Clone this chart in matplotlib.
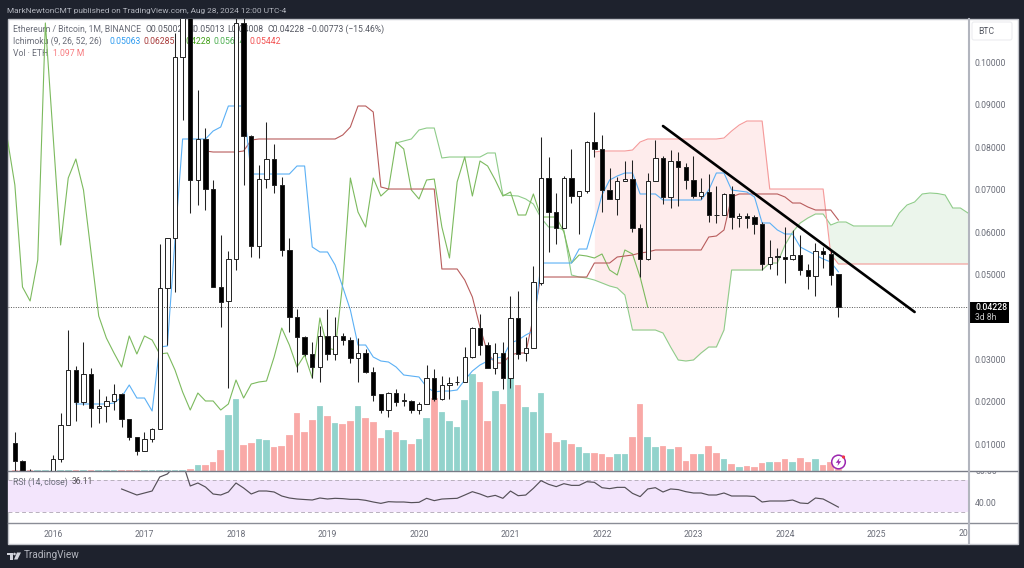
import numpy as np
import matplotlib
matplotlib.use('Agg')
import matplotlib.pyplot as plt
from matplotlib.patches import Rectangle, Circle, Polygon, FancyBboxPatch
from matplotlib.transforms import Bbox, blended_transform_factory

plt.rcParams['font.family'] = ['Roboto', 'DejaVu Sans']

# monthly bars, index 0 = Jan 2016
first_bar = -5
opens = [.01026,.00601,.00295,.0022,.0024,
 .00342,.00649,.01450,.02748,.01993,.02653,.01851,.01899,.02017,.02182,
 .01592,.01167,.00837,.01120,.01356,.04682,.05861,.10130,.12200,.07229,
 .08196,.07016,.04705,.04375,.05366,.10932,.08267,.05672,.07252,.07724,
 .07111,.05578,.03998,.03526,.03125,.02818,.03550,.03125,.03550,.03455,
 .03031,.03149,.02700,.02182,.01804,.02205,.02017,.02017,.01804,.01946,
 .02559,.02064,.02394,.02453,.02453,.03054,.03738,.03337,.02795,.03149,
 .02559,.03974,.03149,.03267,.04800,.07276,.06474,.06097,.07276,.06851,
 .06969,.08125,.07960,.06993,.06781,.07205,.07252,.06097,.05366,.07205,
 .07748,.06828,.07677,.07535,.07229,.06851,.06946,.06415,.06403,.06899,
 .06344,.06368,.06356,.06191,.05248,.05436,.05401,.05366,.05460,.05106,
 .04965,.05554,.05484,.05002]
closes = [.00601,.00153,.00248,.0024,.0029,
 .00649,.01450,.02748,.01993,.02653,.01851,.01899,.02017,.02182,.01592,
 .01167,.00837,.01120,.01356,.04682,.05861,.10130,.12200,.07229,.08196,
 .07016,.04705,.04351,.05366,.10932,.08267,.05672,.07252,.07724,.07111,
 .05578,.03998,.03526,.03125,.02818,.03550,.03125,.03550,.03455,.03031,
 .03149,.02700,.02158,.01804,.02205,.01993,.02040,.01804,.01946,.02559,
 .02064,.02394,.02441,.02476,.03054,.03738,.03337,.02795,.03149,.02559,
 .03974,.03125,.03267,.04823,.07276,.06474,.06097,.07276,.06851,.06969,
 .08125,.07960,.06993,.06781,.07205,.07252,.06097,.05366,.07205,.07748,
 .06828,.07677,.07535,.07229,.06851,.06946,.06403,.06392,.06899,.06356,
 .06368,.06344,.06191,.05248,.05413,.05413,.05377,.05460,.05106,.04965,
 .05554,.05484,.04988,.04228]
highs = [.01285,.00625,.00413,.0028,.0030,
 .00743,.01733,.03691,.02842,.03408,.02795,.02300,.02134,.02417,.02205,
 .01592,.01167,.01285,.01380,.05719,.05861,.10696,.12800,.12800,.09351,
 .08455,.07229,.05932,.05554,.11600,.11400,.08290,.07583,.08597,.08078,
 .07300,.05861,.04186,.03550,.03408,.03785,.04186,.03998,.03620,.03526,
 .03502,.03243,.02818,.02182,.02229,.02300,.02205,.02040,.01993,.02866,
 .02771,.02606,.02583,.02606,.03290,.03762,.04068,.03408,.03384,.03408,
 .04493,.04611,.03526,.05200,.08243,.07771,.06922,.07323,.07960,.06969,
 .08149,.08833,.08290,.07512,.07300,.07677,.07700,.06191,.07394,.08172,
 .07795,.07936,.07889,.07630,.07795,.07276,.07370,.07087,.06922,.07087,
 .06450,.06450,.06403,.06238,.05814,.05625,.06120,.06050,.05932,.05248,
 .05743,.05649,.05578,.05013]
lows = [.00271,.00106,.00200,.0018,.0022,
 .00318,.00578,.01450,.01545,.01922,.01403,.01498,.01521,.01804,.01403,
 .01097,.00743,.00837,.01050,.01356,.03337,.04587,.08644,.06450,.06639,
 .06521,.04705,.03762,.02323,.05106,.07111,.05413,.05389,.07040,.06922,
 .05436,.03644,.02700,.03078,.02559,.02465,.02984,.02984,.03337,.02913,
 .02465,.02677,.02017,.01733,.01639,.01899,.01899,.01733,.01710,.01946,
 .02017,.02040,.02064,.02394,.02453,.03031,.03101,.02795,.02653,.02300,
 .02323,.03007,.02960,.03267,.04752,.05531,.05719,.06097,.06686,.05955,
 .06922,.07771,.06474,.06781,.06403,.07205,.06002,.04941,.05342,.07205,
 .06663,.06568,.06616,.07016,.06804,.06781,.06238,.06215,.06403,.06073,
 .06120,.06097,.05955,.05106,.05130,.04988,.04800,.05342,.04988,.04658,
 .04493,.05153,.04752,.04008]
volume = [1]*23 + [2.3,6.3,6.3,8.7,20.7,55.7,72,26,27.7,31.7,31,24,25,35.7,58,39,50.7,64.7,54.7,48,
 47,50,65,52.7,49,33,40.7,38.7,31,26.7,32,52.7,72.7,59,50,43.7,71,97,89,50,80,67,112.7,86,64,59,77.7,
 37.7,28.7,31,26.7,24,17.7,17.7,17,13.7,17.3,17.3,33.7,67,34,24,25,21.7,24,
 10,17,17,25,18,12,7,4.3,5,4.3,8,8.7,9.3,11.7,9.3,13,9.3,12.3,6,8.7,1.7]

tenkan_start = 3
tenkan = [.01946]*5 + [.01969,.02111,.02394,.02087,.02087,.01781,.03290,.03314,.05814] + [.08196]*4 + [
 .08384,.08479,.08974,.08974,.08974] + [.07370]*6 + [.07559,.07559,.05649,.05531,.05531,.05224,.04705,.04163,
 .03337,.03337,.03054,.02960,.02936,.02818,.02630,.02606,.02583,.02347,.02229,.02252,.02252,.02276,.02512,
 .02724,.02866,.02960,.03031,.03054,.03384,.03455,.03573,.03667] + [.05271]*5 + [.05601,.05601,.06215,.06875,
 .07229,.07323,.07394,.07394,.06899,.06899,.06899] + [.06757]*6 + [.06993,.07394,.07394,.06993,.06969,.06946,
 .06828,.06215,.06215,.06050,.05955,.05955,.05649,.05554,.05460,.05366,.05295,.05063]

kijun_start = 20
kijun = [.07913] + [.07889]*4 + [.07913,.08172] + [.08196]*11 + [.08290,.08479,.08974,.08974,.08833,.07064] + [
 .07016]*7 + [.05130]*3 + [.04870,.04469,.03762,.03149,.02913,.02913,.03101,.03149,.03149,.03998] + [
 .04941]*7 + [.05271]*3 + [.05413,.05436,.05460,.05507,.05531] + [.05578]*7 + [.05884,.05908,.06050,.06828] + [
 .06899]*6 + [.06828,.06686,.06686,.06592,.06521,.06521,.06521,.06285]

lagging_start = -6
lagging = [.08219,.07111,.04705,.04375,.05342,.10932,.08314,.05696,.07276,.07724,.06993,.05507,.04021,.03502,
 .03149,.02818,.03550,.03125,.03550,.03455,.03125,.03149,.02748,.02229,.01804,.02205,.02017,.02017,.01804,
 .01946,.02512,.02087,.02417,.02465,.02488,.03054,.03738,.03337,.02818,.03101,.02559,.03974,.03267,.03219,
 .04800,.07276,.06474,.06120,.07276,.06851,.07016,.08125,.07960,.06993,.06781,.07229,.07252,.06120,.05389,
 .07182,.07771,.06851,.07677,.07559,.07229,.06851,.06946,.06403,.06403,.06899,.06356,.06356,.06356,.06002,
 .05271,.05460,.05436,.05389,.05484,.05106,.04988,.05578,.05484,.04941,.04228]

senkou_a_start = 45
senkou_a = [.08101,.08149,.08196,.08408,.08455,.08455,.07748] + [.07771]*5 + [.07866,.07866,.06875,.06863,.06851,
 .06781,.06663,.06333,.06120,.06120,.06050,.04988,.04941,.04917,.04870,.04800,.04729,.04682,.04516] + [
 .03691]*4 + [.03620,.03290,.02984,.02960,.02984,.03149,.03290,.03290,.03691] + [.05106]*5 + [.05271,.05271,
 .05696,.06002,.06215,.06333,.06427,.06427,.06167,.06238,.06238] + [.06144]*6 + [.06450,.06639,.06710,.06899,
 .06922,.06910,.06875,.06568,.06568,.06450]

senkou_b_start = 71
senkou_b = [.07889] + [.07913]*4 + [.07936,.08125] + [.08196]*10 + [.08219,.08384,.08526] + [.08620]*3 + [
 .07016]*8 + [.05484] + [.05248]*18

rsi_start = 9
rsi_values = [58.75,55,51.25,53.75,56.25,73.75,77.5,88,92,62.5,66.25,61.25,52.5,51.25,55,66.25,60,52.5,56.25,56.25,
 55,50,47.5,46.25,45.6,45,47.5,46.25,47.1,46.7,45.8,45.8,44.6,42.5,40.8,42.9,42.5,42.5,41.7,42.1,47.1,44.2,
 46.2,46.7,47.1,51.2,55.4,52.5,48.8,50.8,47.1,56.2,50.4,51.2,59.6,69.2,64.6,61.7,65.4,63.3,63.3,67.9,67.1,
 60.4,59.2,60.8,60.8,53.3,49.2,58.8,60.4,55,58.8,58,55.4,53.75,53.75,51.25,51.25,53.75,50,50,50,49.4,42.5,
 43.75,43.75,43.75,45,41.25,40.6,47.5,46.25,41.25,36.11]

trend_x = [80, 113]
trend_y = [.08502, .04116]

year_ticks = [0,12,24,36,48,60,72,84,96,108]
year_labels = ['2016','2017','2018','2019','2020','2021','2022','2023','2024','2025']
price_ticks = [.01,.02,.03,.05,.06,.07,.08,.09,.10]

BG = '#1e222d'
GRAY = '#6a6d78'
FS = 6.2
fig = plt.figure(figsize=(10.24, 5.68), dpi=100, facecolor=BG)

def box(x0, y0, x1, y1):
    return [x0/1024, 1-y1/568, (x1-x0)/1024, (y1-y0)/568]

# page layer in pixel coords for frame and header
page = fig.add_axes([0,0,1,1], zorder=0)
page.set_xlim(0,1024); page.set_ylim(568,0); page.axis('off')
page.add_patch(Rectangle((7.5,18.5),1010,525,fc='white',ec='#c4c6cc',lw=1))
page.text(7,10.5,'MarkNewtonCMT published on TradingView.com, Aug 28, 2024 12:00 UTC-4',color='#b2b5be',fontsize=5.95,va='center')
page.text(13,29.5,'Ethereum / Bitcoin, 1M, BINANCE',color='#6a6d78',fontsize=FS,va='center')
for xt,s in [(146,'O0.05002'),(187,'H0.05013'),(227,'L0.04008'),(267,'C0.04228'),(307,'−0.00773 (−15.46%)')]:
    page.text(xt,29.5,s,color='#555862',fontsize=FS,va='center')
page.text(13,41.5,'Ichimoku (9, 26, 52, 26)',color='#6a6d78',fontsize=FS,va='center')
for xt,s,c in [(109,'0.05063','#2e9bf0'),(144,'0.06285','#a83a3a'),(179,'0.04228','#43a018'),(214,'0.05674','#4caf50'),(249,'0.05442','#f25050')]:
    page.text(xt,41.5,s,color=c,fontsize=FS,va='center')
page.text(13,53.5,'Vol · ETH',color='#6a6d78',fontsize=FS,va='center')
page.text(53,53.5,'1.097 M',color='#f77c80',fontsize=FS,va='center')
page.text(24,555.5,'TradingView',color='#b2b5be',fontsize=7.2,va='center')
page.add_patch(Polygon([(7,552.5),(13,552.5),(13,559.5),(10,559.5),(10,555),(7,555)],fc='#d1d4dc',ec='none'))
page.add_patch(Circle((14.5,554),1.3,fc='#d1d4dc',ec='none'))
page.add_patch(Polygon([(17,552.5),(21,552.5),(17.5,559.5),(14,559.5)],fc='#d1d4dc',ec='none'))

xlim = (-5.9, 120)
ylim = (.003656, .11026)

# volume
ax_vol = fig.add_axes(box(8,19,968,471), zorder=1)
ax_vol.patch.set_alpha(0); ax_vol.axis('off')
ax_vol.set_xlim(xlim); ax_vol.set_ylim(0,452)

# price pane
ax = fig.add_axes(box(8,19,968,471), zorder=2)
ax.patch.set_alpha(0)
ax.set_xlim(xlim); ax.set_ylim(ylim)
for s in ax.spines.values():
    s.set_visible(False)

bars = np.arange(first_bar, first_bar+len(closes))
up = np.array(closes) >= np.array(opens)
ax_vol.bar(bars, volume, width=.88, color=['#92d3cc' if u else '#f9a9a7' for u in up], edgecolor='#ffffff', linewidth=.15)

ax.axhline(closes[-1], color='#555555', lw=.7, ls=(0,(1,1.5)), zorder=3)

a_x = senkou_a_start + np.arange(len(senkou_a))
b_x = senkou_b_start + np.arange(len(senkou_b))
cloud_x = b_x
cloud_a = np.array(senkou_a)[cloud_x-senkou_a_start]
cloud_b = np.array(senkou_b)
ax.fill_between(cloud_x, cloud_a, cloud_b, where=cloud_b>=cloud_a, interpolate=True, color='#feecec', lw=0, zorder=1)
ax.fill_between(cloud_x, cloud_a, cloud_b, where=cloud_b<=cloud_a, interpolate=True, color='#ebf5eb', lw=0, zorder=1)
ax.plot(a_x, senkou_a, color='#8fcc8a', lw=.8, zorder=2)
ax.plot(b_x, senkou_b, color='#f59a9a', lw=.8, zorder=2)
ax.plot(lagging_start+np.arange(len(lagging)), lagging, color='#7cba5e', lw=.8, zorder=2)
ax.plot(kijun_start+np.arange(len(kijun)), kijun, color='#b85c5c', lw=.8, zorder=2)
ax.plot(tenkan_start+np.arange(len(tenkan)), tenkan, color='#5bb0f5', lw=.8, zorder=2)

ax.vlines(bars, lows, highs, color='#222222', lw=.75, zorder=4)
for i in range(len(bars)):
    bot = min(opens[i], closes[i])
    hgt = max(abs(closes[i]-opens[i]), .00012)
    ax.bar(bars[i], hgt, bottom=bot, width=.58, color='white' if up[i] else 'black', edgecolor='#222222', linewidth=.7, zorder=5)

ax.plot(trend_x, trend_y, color='black', lw=1.9, zorder=6, solid_capstyle='round')

ax.set_xticks([])
ax.yaxis.tick_right()
ax.set_yticks(price_ticks)
ax.set_yticklabels(['%.5f' % t for t in price_ticks])
ax.tick_params(axis='y', length=0, pad=5, labelsize=FS, labelcolor=GRAY)

# rsi pane
rsi = fig.add_axes(box(8,471,968,523), zorder=1)
rsi.patch.set_alpha(0)
rsi.set_xlim(xlim); rsi.set_ylim(16.25,81.25)
for s in rsi.spines.values():
    s.set_visible(False)
rsi.axhspan(30,70,color='#f3e5fc',lw=0,zorder=1)
rsi.axhline(70,color='#b8b0bd',lw=.7,ls=(0,(4,3)),zorder=2)
rsi.axhline(30,color='#b8b0bd',lw=.7,ls=(0,(4,3)),zorder=2)
rsi.plot(rsi_start+np.arange(len(rsi_values)), rsi_values, color='#555058', lw=.85, zorder=3)
rsi.set_yticks([])
rsi.set_xticks(year_ticks)
rsi.set_xticklabels(year_labels)
rsi.tick_params(axis='x', length=0, pad=5, labelsize=FS, labelcolor=GRAY)
rsi.text(13/1024,1-482/568,'RSI (14, close)',transform=fig.transFigure,color=GRAY,fontsize=FS,va='center',zorder=4)
rsi.text(72/1024,1-482/568,'36.11',transform=fig.transFigure,color='#555058',fontsize=FS,va='center',zorder=4)
side = blended_transform_factory(fig.transFigure, rsi.transData)
rsi.text(975/1024,40,'40.00',transform=side,color=GRAY,fontsize=FS,va='center')
t80 = rsi.text(975/1024,80,'80.00',transform=side,color=GRAY,fontsize=FS,va='center',clip_on=True)
t80.set_clip_box(Bbox.from_extents(0,0,1024,568-471))
page.text(968,533.5,'20',color=GRAY,fontsize=FS,va='center',ha='right')

# separators and right scale
over = fig.add_axes([0,0,1,1], zorder=5)
over.patch.set_alpha(0)
over.set_xlim(0,1024); over.set_ylim(568,0); over.axis('off')
over.plot([8,1017],[471,471],color='#787b86',lw=1)
over.plot([8,1017],[523,523],color='#8a8d96',lw=1)
over.plot([969,969],[19,543],color='#b2b5be',lw=1.5)
over.add_patch(FancyBboxPatch((972,22),40,18,boxstyle='round,pad=0,rounding_size=2',fc='white',ec='#eceDF0',lw=.8))
over.text(978,31.5,'BTC',color='#555862',fontsize=FS,va='center')
over.add_patch(Rectangle((969.5,302),39.5,21,fc='black',ec='none'))
over.text(975,307.5,'0.04228',color='white',fontsize=FS,va='center',fontweight='medium')
over.text(975,317.5,'3d 8h',color='#c8c8c8',fontsize=FS,va='center')
over.add_patch(Circle((838.5,462),6.8,fc='white',ec='#9c27b0',lw=1.1))
over.add_patch(Polygon([(839.5,458),(835.8,462.8),(838.2,462.8),(837.5,466),(841.2,461.2),(838.8,461.2)],fc='#9c27b0',ec='none'))
over.add_patch(Circle((843.5,457),1.6,fc='#f23645',ec='none'))

fig.savefig('out.png', dpi=100, facecolor=BG)
